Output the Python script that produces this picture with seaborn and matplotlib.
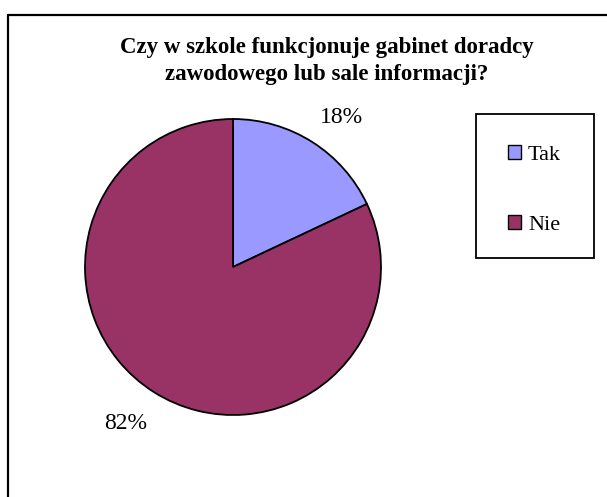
import matplotlib
matplotlib.use("Agg")
import matplotlib.pyplot as plt
from matplotlib.patches import Patch, Rectangle
from matplotlib.lines import Line2D
import seaborn as sns

# data
labels = ["Tak", "Nie"]
values = [18, 82]
colors = ["#9999FF", "#993366"]
title = "Czy w szkole funkcjonuje gabinet doradcy\nzawodowego lub sale informacji?"

sns.set_theme(style="white")
plt.rcParams["font.family"] = ["Liberation Serif", "DejaVu Serif"]
plt.rcParams["text.color"] = "black"

W, H = 607, 497
fig = plt.figure(figsize=(W / 100, H / 100), dpi=100)
fig.patch.set_facecolor("white")

# outer frame (only top and left edges visible)
fig.add_artist(Line2D([7.5 / W, 7.5 / W], [0, 1 - 14.5 / H], color="black", lw=1.6))
fig.add_artist(Line2D([7.5 / W, 1], [1 - 14.5 / H, 1 - 14.5 / H], color="black", lw=1.6))

# pie
cx, cy, r = 233, 267, 148
side = 2.2 * r
ax = fig.add_axes([(cx - side / 2) / W, (H - cy - side / 2) / H, side / W, side / H])
pal = sns.color_palette(colors)
wedges, _, pcts = ax.pie(values, colors=pal, startangle=90, counterclock=False,
                         autopct="%1.0f%%", pctdistance=1.28,
                         wedgeprops=dict(edgecolor="black", linewidth=1.3),
                         textprops=dict(fontsize=17, color="black"))
# small nudges so labels sit like the original
x, y = pcts[0].get_position()
pcts[0].set_position((x + 0.045, y - 0.07))
x, y = pcts[1].get_position()
pcts[1].set_position((x - 0.04, y + 0.02))
ax.set_xlim(-1.1, 1.1)
ax.set_ylim(-1.1, 1.1)
ax.set_aspect("equal")
ax.axis("off")

fig.text(327 / W, 1 - 61 / H, title, ha="center", va="center",
         fontsize=16.5, fontweight="bold", linespacing=1.4, color="black")

# legend box
lx0, ly0, lx1, ly1 = 476, 114, 594, 258
fig.add_artist(Rectangle((lx0 / W, 1 - ly1 / H), (lx1 - lx0) / W, (ly1 - ly0) / H,
                         transform=fig.transFigure, fill=False, edgecolor="black", lw=1.3))
handles = [Patch(facecolor=c, edgecolor="black", linewidth=1.0, label=l) for c, l in zip(pal, labels)]
fig.legend(handles=handles, loc="center left", bbox_to_anchor=(508 / W, 1 - 190 / H),
           frameon=False, fontsize=16, handlelength=0.6, handleheight=0.6,
           handletextpad=0.3, labelspacing=2.25, borderaxespad=0, borderpad=0)

fig.savefig("out.png", dpi=100, facecolor="white")
